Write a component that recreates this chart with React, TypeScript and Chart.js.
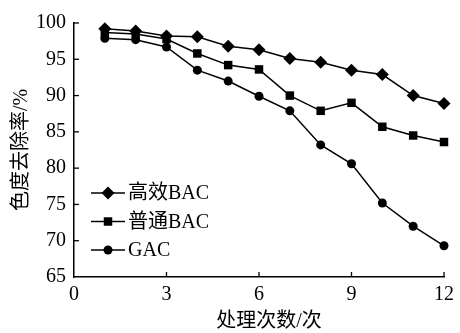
import React, { useEffect, useRef } from "react";
import { Chart, registerables } from "chart.js";

Chart.register(...registerables);

const xValues = [1, 2, 3, 4, 5, 6, 7, 8, 9, 10, 11, 12];
const highBAC = [99.2, 98.9, 98.2, 98.1, 96.8, 96.3, 95.1, 94.6, 93.5, 92.9, 90.0, 88.9];
const normalBAC = [98.7, 98.5, 97.8, 95.8, 94.2, 93.6, 90.0, 87.9, 89.0, 85.7, 84.5, 83.6];
const gac = [97.9, 97.7, 96.7, 93.5, 92.0, 89.9, 87.9, 83.2, 80.6, 75.2, 72.0, 69.3];
const seriesLabels = ["高效BAC", "普通BAC", "GAC"];
const xTitle = "处理次数/次";
const yTitle = "色度去除率/%";

const FONT = "'Liberation Serif', 'Noto Sans CJK SC', serif";

function drawMarker(ctx: CanvasRenderingContext2D, style: string, x: number, y: number, r: number) {
  ctx.beginPath();
  if (style === "rectRot") {
    ctx.moveTo(x, y - r);
    ctx.lineTo(x + r, y);
    ctx.lineTo(x, y + r);
    ctx.lineTo(x - r, y);
    ctx.closePath();
  } else if (style === "rect") {
    const s = r * Math.SQRT1_2;
    ctx.rect(x - s, y - s, 2 * s, 2 * s);
  } else {
    ctx.arc(x, y, r, 0, Math.PI * 2);
  }
  ctx.fill();
}

const inwardTicks = {
  id: "inwardTicks",
  afterDraw(chart: any) {
    const ctx = chart.ctx;
    const xs = chart.scales.x;
    const ys = chart.scales.y;
    ctx.save();
    ctx.strokeStyle = "#000";
    ctx.lineWidth = 1.3;
    ys.ticks.forEach((t: any) => {
      if (t.value === ys.min) return;
      const py = ys.getPixelForValue(t.value);
      ctx.beginPath();
      ctx.moveTo(xs.left, py);
      ctx.lineTo(xs.left + 5, py);
      ctx.stroke();
    });
    xs.ticks.forEach((t: any) => {
      if (t.value === xs.min) return;
      const px = xs.getPixelForValue(t.value);
      ctx.beginPath();
      ctx.moveTo(px, ys.bottom);
      ctx.lineTo(px, ys.bottom - 5);
      ctx.stroke();
    });
    // x-axis title, slightly right of centre as in the reference
    ctx.fillStyle = "#000";
    ctx.font = "20px " + FONT;
    ctx.textAlign = "center";
    ctx.textBaseline = "middle";
    ctx.fillText(xTitle, (xs.left + xs.right) / 2 + 10, chart.height - 11);
    ctx.restore();
  },
};

const lineLegend = {
  id: "lineLegend",
  afterDraw(chart: any) {
    const ctx = chart.ctx;
    const area = chart.chartArea;
    const x0 = area.left + 17;
    const x1 = x0 + 34;
    const rowTop = area.bottom - 84;
    const rowGap = 28.5;
    ctx.save();
    chart.data.datasets.forEach((ds: any, i: number) => {
      const y = rowTop + i * rowGap;
      ctx.strokeStyle = "#000";
      ctx.fillStyle = "#000";
      ctx.lineWidth = 1.5;
      ctx.beginPath();
      ctx.moveTo(x0, y);
      ctx.lineTo(x1, y);
      ctx.stroke();
      drawMarker(ctx, ds.pointStyle, (x0 + x1) / 2, y, ds.pointRadius);
      ctx.font = "20px " + FONT;
      ctx.textAlign = "left";
      ctx.textBaseline = "middle";
      ctx.fillText(ds.label, x1 + 3, y + 1);
    });
    ctx.restore();
  },
};

export default function App() {
  const ref = useRef<HTMLCanvasElement | null>(null);
  useEffect(() => {
    document.body.style.margin = "0";
    const mk = (vals: number[]) => xValues.map((x, i) => ({ x, y: vals[i] }));
    const common = {
      borderColor: "#000",
      backgroundColor: "#000",
      pointBackgroundColor: "#000",
      pointBorderColor: "#000",
      borderWidth: 1.5,
      pointBorderWidth: 0,
      fill: false,
      tension: 0,
      clip: false as any,
    };
    const chart = new Chart(ref.current as HTMLCanvasElement, {
      type: "line",
      data: {
        datasets: [
          { ...common, label: seriesLabels[0], data: mk(highBAC), pointStyle: "rectRot", pointRadius: 6.5 },
          { ...common, label: seriesLabels[1], data: mk(normalBAC), pointStyle: "rect", pointRadius: 6 },
          { ...common, label: seriesLabels[2], data: mk(gac), pointStyle: "circle", pointRadius: 4.5 },
        ],
      },
      options: {
        animation: false,
        responsive: false,
        layout: { padding: { top: 23, right: 13, left: 0, bottom: 0 } },
        plugins: { legend: { display: false }, tooltip: { enabled: false } },
        scales: {
          x: {
            type: "linear",
            min: 0,
            max: 12,
            afterFit: (s: any) => { s.height = 56; },
            border: { display: true, color: "#000", width: 1.5 },
            grid: { display: true, drawOnChartArea: false, drawTicks: false },
            ticks: { stepSize: 3, color: "#000", padding: 6, font: { family: FONT, size: 20 } },
            title: { display: false },
          },
          y: {
            type: "linear",
            min: 65,
            max: 100,
            afterFit: (s: any) => { s.width = 74; },
            border: { display: true, color: "#000", width: 1.5 },
            grid: { display: true, drawOnChartArea: false, drawTicks: false },
            ticks: { stepSize: 5, color: "#000", padding: 8, font: { family: FONT, size: 20 } },
            title: { display: true, text: yTitle, color: "#000", padding: { top: 10, bottom: 0 }, font: { family: FONT, size: 20 } },
          },
        },
      },
      plugins: [inwardTicks, lineLegend],
    });
    return () => chart.destroy();
  }, []);
  return (
    <div style={{ width: 460, height: 333, background: "#fff" }}>
      <canvas ref={ref} width={460} height={333} />
    </div>
  );
}
